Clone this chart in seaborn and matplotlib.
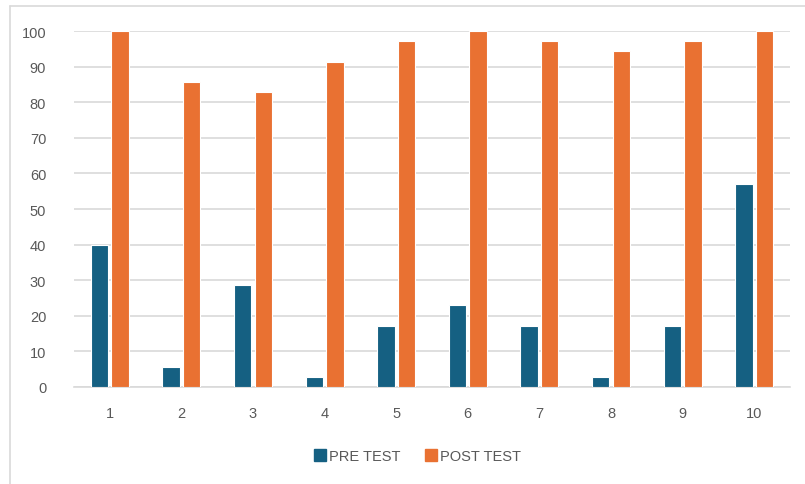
import pandas as pd
import seaborn as sns
import matplotlib.pyplot as plt
from matplotlib.lines import Line2D

students = ["1", "2", "3", "4", "5", "6", "7", "8", "9", "10"]
pre_test = [40.0, 5.7, 28.6, 2.9, 17.1, 22.9, 17.1, 2.9, 17.1, 57.1]
post_test = [100.0, 85.7, 82.9, 91.4, 97.1, 100.0, 97.1, 94.3, 97.1, 100.0]
series = ["PRE TEST", "POST TEST"]
colors = ["#156082", "#E97132"]

df = pd.DataFrame({
    "student": students * 2,
    "score": pre_test + post_test,
    "test": [series[0]] * len(students) + [series[1]] * len(students),
})

sns.set_style("white")
plt.rcParams["font.family"] = ["Liberation Sans", "DejaVu Sans"]
text_gray = "#595959"
grid_gray = "#d9d9d9"

fig = plt.figure(figsize=(8.05, 4.85), dpi=100)
ax = fig.add_axes([74 / 805, 0.2, (790 - 74) / 805, 0.734])

sns.barplot(
    data=df, x="student", y="score", hue="test", order=students,
    hue_order=series, palette=colors, saturation=1, width=0.576, gap=0.15,
    edgecolor="white", linewidth=0.8, legend=False, ax=ax, zorder=3,
)

ax.set_xlim(-0.5, len(students) - 0.5)
ax.set_ylim(0, 100)
ax.set_yticks(range(0, 101, 10))
ax.yaxis.grid(True, color=grid_gray, linewidth=1.2, zorder=0)
ax.set_axisbelow(True)
for side in ["top", "right", "left"]:
    ax.spines[side].set_visible(False)
ax.spines["bottom"].set_color(grid_gray)
ax.spines["bottom"].set_linewidth(1.2)
ax.tick_params(axis="y", length=0, pad=20, labelsize=10.5, labelcolor=text_gray)
ax.tick_params(axis="x", length=0, pad=14, labelsize=10.5, labelcolor=text_gray)
ax.set_xlabel("")
ax.set_ylabel("")

handles = [Line2D([], [], marker="s", linestyle="", markersize=8,
                  markerfacecolor=c, markeredgecolor=c) for c in colors]
fig.legend(handles, series, loc="center", bbox_to_anchor=(417 / 805, 1 - 457 / 485),
           ncol=2, frameon=False, fontsize=10.5, labelcolor=text_gray,
           handletextpad=0.1, columnspacing=1.6, handlelength=1.0)

# chart frame (top and left edges visible)
fig.add_artist(Line2D([10 / 805, 1], [1 - 7 / 485] * 2, color=grid_gray, lw=1.2))
fig.add_artist(Line2D([10 / 805] * 2, [0, 1 - 7 / 485], color=grid_gray, lw=1.2))

fig.savefig("out.png", dpi=100)
